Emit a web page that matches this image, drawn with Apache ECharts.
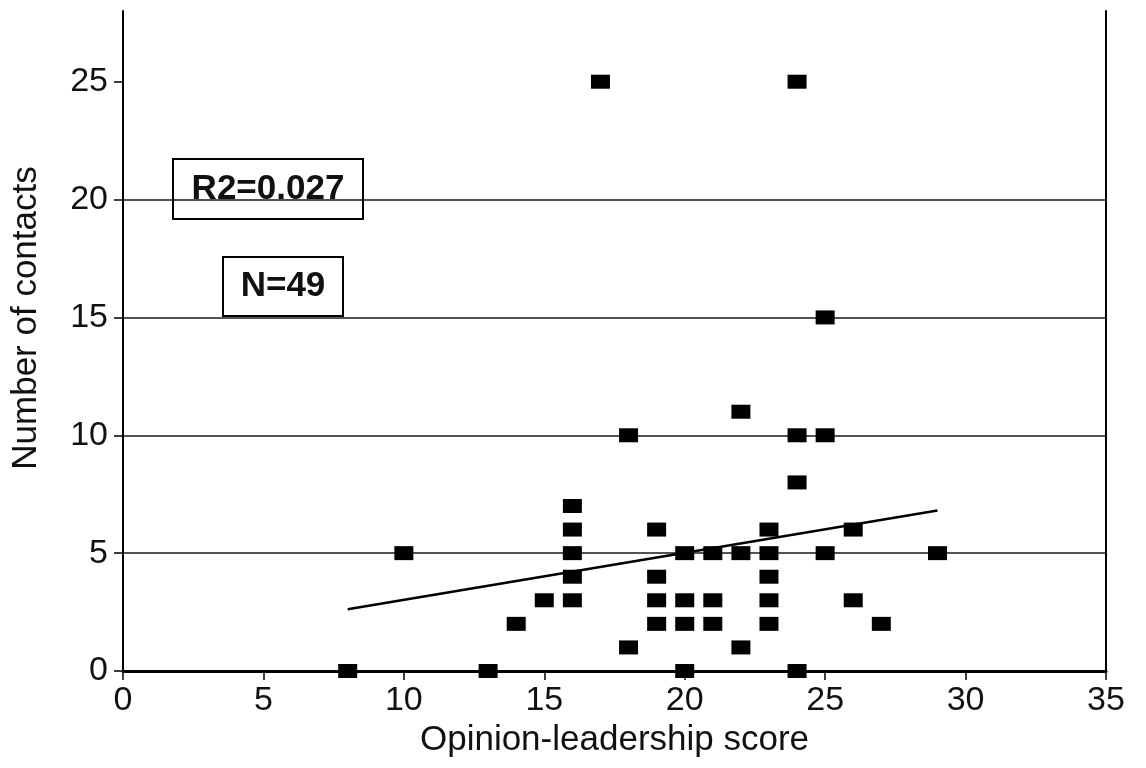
<!DOCTYPE html>
<html><head><meta charset="utf-8">
<script src="https://cdn.jsdelivr.net/npm/echarts@6/dist/echarts.min.js"></script>
<style>html,body{margin:0;padding:0;background:#fff}#c{width:1146px;height:768px}</style>
</head><body><div id="c"></div>
<script>
// Data
const scoreX = [8,13,20,24,10,14,15,16,16,16,16,16,17,18,18,19,19,19,19,20,20,20,21,21,21,22,22,22,23,23,23,23,23,24,24,24,25,25,25,26,26,27,29];
const contactsY = [0,0,0,0,5,2,3,3,4,5,6,7,25,1,10,2,3,4,6,2,3,5,2,3,5,1,5,11,2,3,4,5,6,8,10,25,5,10,15,3,6,2,5];
const trendX = [8, 29];
const trendY = [2.62, 6.81];
const xTicks = [0,5,10,15,20,25,30,35];
const yTicks = [0,5,10,15,20,25];
const annotR2 = 'R2=0.027';
const annotN = 'N=49';

const points = scoreX.map((x,i)=>[x, contactsY[i]]);
const trend = trendX.map((x,i)=>[x, trendY[i]]);
const FONT = '"Liberation Sans", Arial, sans-serif';

function box(x, y, w, h, label){
  return {
    type:'group', left:x, top:y, z:10,
    children:[
      {type:'rect', shape:{x:0,y:0,width:w,height:h},
        style:{fill:'#fff', stroke:'#000', lineWidth:2}},
      {type:'text', x:w/2, y:h/2,
        style:{text:label, font:'bold 35px '+FONT, fill:'#111',
          align:'center', verticalAlign:'middle'}}
    ]
  };
}

const chart = echarts.init(document.getElementById('c'));
chart.setOption({
  animation:false,
  backgroundColor:'#fff',
  grid:{left:123, right:40, top:11, bottom:97, containLabel:false, outerBoundsMode:'none'},
  xAxis:{
    type:'value', min:0, max:35, interval:5,
    name:'Opinion-leadership score', nameLocation:'middle', nameGap:50,
    nameTextStyle:{fontFamily:FONT, fontSize:35, color:'#111'},
    axisLine:{show:true, onZero:false, lineStyle:{color:'#000', width:3}},
    axisTick:{show:true, inside:false, length:9, lineStyle:{color:'#000', width:1.5}},
    axisLabel:{fontFamily:FONT, fontSize:34, color:'#111', margin:13},
    splitLine:{show:false}
  },
  yAxis:[{
    type:'value', min:0, max:28, interval:5,
    name:'Number of contacts', nameLocation:'middle', nameGap:79,
    nameTextStyle:{fontFamily:FONT, fontSize:35, color:'#111', padding:[0,0,0,46]},
    axisLine:{show:true, lineStyle:{color:'#000', width:2}},
    axisTick:{show:true, length:9, customValues:yTicks, lineStyle:{color:'#000', width:1.5}},
    axisLabel:{fontFamily:FONT, fontSize:34, color:'#111', margin:15, customValues:yTicks},
    splitLine:{show:true, showMinLine:false, showMaxLine:false, lineStyle:{color:'#1a1a1a', width:1.6}}
  },{
    type:'value', min:0, max:28, interval:5, position:'right',
    axisLine:{show:true, lineStyle:{color:'#000', width:2}},
    axisTick:{show:false}, axisLabel:{show:false}, splitLine:{show:false}
  }],
  series:[{
    type:'scatter', data:points, symbol:'rect', symbolSize:[19,14],
    itemStyle:{color:'#000', opacity:1}, z:5
  },{
    type:'line', data:trend, showSymbol:false, symbol:'none',
    lineStyle:{color:'#000', width:2.5}, z:4
  }],
  graphic:[ box(172,158,190,60,annotR2), box(222,256,120,59,annotN) ]
});
</script></body></html>
